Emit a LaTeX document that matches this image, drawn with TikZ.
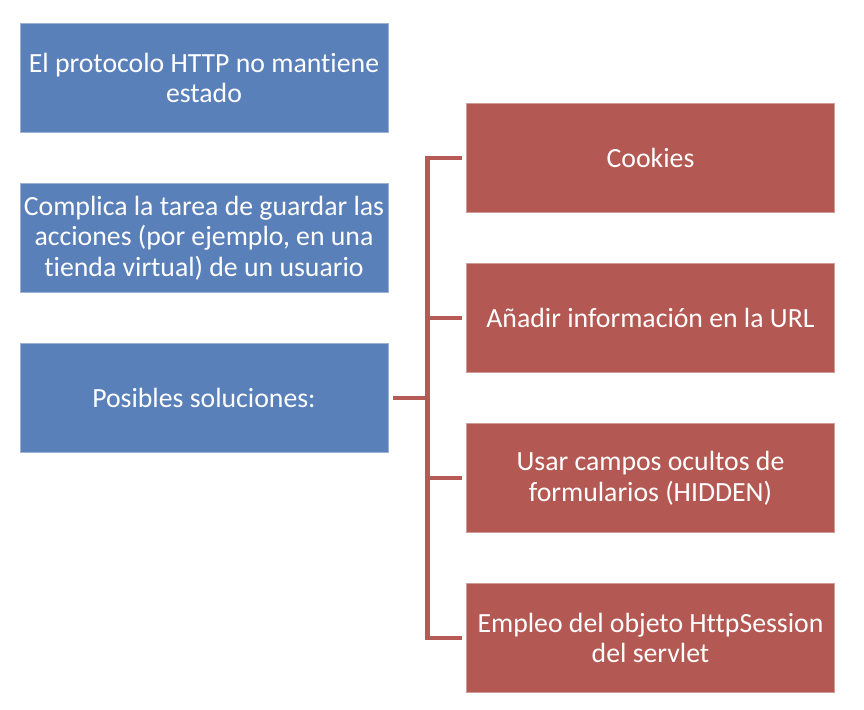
\documentclass[tikz,border=0pt]{standalone}
\usepackage{fontspec}
\setmainfont{Carlito}[Ligatures={NoCommon}]
\usetikzlibrary{positioning}

\definecolor{boxblue}{HTML}{5A80B9}
\definecolor{boxred}{HTML}{B35852}
\definecolor{linkred}{HTML}{B55A55}

\tikzset{
  issue/.style={fill=boxblue, draw=boxblue!60!white, line width=0.4pt,
    minimum width=7.36cm, minimum height=2.18cm, inner sep=2pt,
    align=center, text=white, font=\fontsize{15.8}{17.4}\selectfont},
  remedy/.style={issue, fill=boxred, draw=boxred!60!white},
  link/.style={draw=linkred, line width=2.6pt}
}

\begin{document}
\begin{tikzpicture}[on grid, node distance=3.2cm]
   \useasboundingbox (0,0) rectangle (17.28,-14.2);
   \node[issue] (state)   at (4.08,-1.56) {El protocolo HTTP no mantiene\\estado};
   \node[issue] (store)   [below=of state] {Complica la tarea de guardar las\\acciones (por ejemplo, en una\\tienda virtual) de un usuario};
   \node[issue] (answers) [below=of store] {Posibles soluciones:};
   \node[remedy] (cookies) [below right=1.6cm and 8.93cm of state] {Cookies};
   \node[remedy] (url)     [below=of cookies] {Añadir información en la URL};
   \node[remedy] (hidden)  [below=of url] {Usar campos ocultos de\\formularios (HIDDEN)};
   \node[remedy] (session) [below=of hidden] {Empleo del objeto HttpSession\\del servlet};
   \coordinate (fork) at ([xshift=-0.77cm]cookies.west |- answers.east);
   \draw[link] ([xshift=-0.08cm]cookies.west) -- (fork |- cookies.west)
        -- (fork |- session.west) -- ([xshift=-0.08cm]session.west);
   \draw[link] ([xshift=0.1cm]answers.east) -- (fork);
   \draw[link] (fork |- url.west) -- ([xshift=-0.08cm]url.west);
   \draw[link] (fork |- hidden.west) -- ([xshift=-0.08cm]hidden.west);
\end{tikzpicture}
\end{document}
